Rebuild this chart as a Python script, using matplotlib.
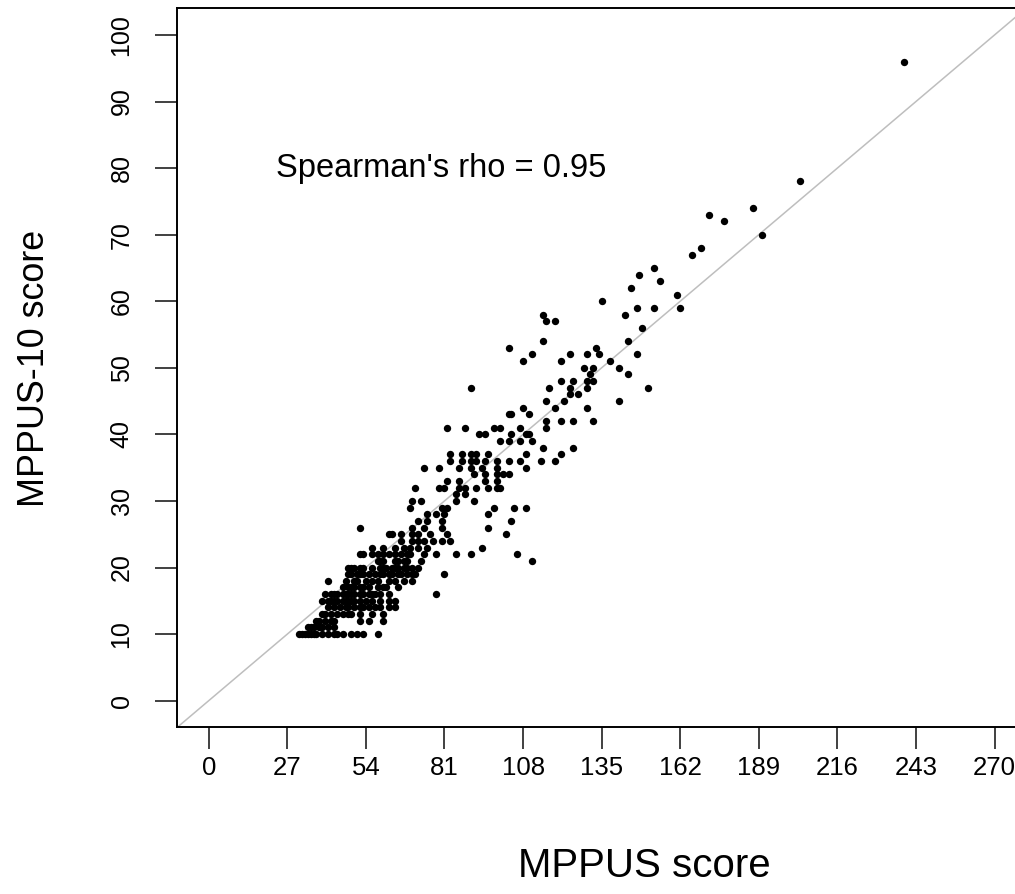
import matplotlib
matplotlib.use("Agg")
import matplotlib.pyplot as plt

plt.rcParams['font.family'] = ['Liberation Sans', 'DejaVu Sans']

# ---- data ----
x_ticks = [0, 27, 54, 81, 108, 135, 162, 189, 216, 243, 270]
y_ticks = [0, 10, 20, 30, 40, 50, 60, 70, 80, 90, 100]
annotation = "Spearman's rho = 0.95"
x_title = "MPPUS score"
y_title = "MPPUS-10 score"

mppus = [
    31, 32, 33, 34, 35, 36, 37, 39, 41, 43, 44, 46, 49, 51, 53, 58,          # 10
    34, 35, 36, 38, 39, 41, 43,                                              # 11
    37, 38, 40, 42, 43, 52, 55, 60,                                          # 12
    39, 40, 42, 44, 46, 48, 49, 52, 56, 60,                                  # 13
    41, 43, 45, 47, 48, 50, 52, 53, 55, 57, 59, 62, 64,                      # 14
    39, 41, 42, 43, 44, 46, 47, 48, 49, 50, 52, 54, 56, 59, 62, 64,          # 15
    40, 42, 43, 44, 46, 47, 48, 49, 50, 52, 53, 55, 56, 57, 59, 62, 78,      # 16
    46, 48, 49, 50, 52, 53, 55, 58, 60, 61, 65,                              # 17
    41, 47, 50, 51, 54, 56, 58, 62, 64, 67, 70,                              # 18
    48, 49, 51, 52, 53, 55, 57, 59, 60, 62, 63, 65, 66, 68, 70, 71, 81,      # 19
    48, 49, 50, 52, 53, 56, 59, 60, 61, 63, 64, 65, 67, 68, 70, 72,          # 20
    58, 59, 60, 64, 65, 67, 68, 73, 111,                                     # 21
    52, 53, 56, 58, 60, 62, 64, 66, 68, 69, 74, 78, 85, 90, 106,             # 22
    56, 60, 64, 67, 69, 72, 75, 94,                                          # 23
    66, 70, 72, 74, 77, 80, 83,                                              # 24
    62, 63, 66, 70, 72, 76, 82, 102,                                         # 25
    52, 70, 74, 80, 96,                                                      # 26
    72, 75, 80, 104,                                                         # 27
    75, 78, 81, 96,                                                          # 28
    69, 80, 82, 98, 105, 109,                                                # 29
    70, 73, 85, 91,                                                          # 30
    85, 88,                                                                  # 31
    71, 79, 81, 86, 88, 92, 96, 99, 100,                                     # 32
    82, 86, 95, 99,                                                          # 33
    91, 95, 99, 101, 103,                                                    # 34
    74, 79, 86, 90, 94, 99, 109,                                             # 35
    83, 87, 90, 92, 95, 99, 103, 107, 114, 119,                              # 36
    83, 87, 90, 92, 96, 109, 121,                                            # 37
    115, 125,                                                                # 38
    100, 103, 107, 111,                                                      # 39
    93, 95, 104, 109, 110,                                                   # 40
    82, 88, 98, 100, 107, 116,                                               # 41
    116, 121, 125, 132,                                                      # 42
    103, 104, 110,                                                           # 43
    108, 119, 130,                                                           # 44
    116, 122, 141,                                                           # 45
    124, 127,                                                                # 46
    90, 117, 124, 130, 151,                                                  # 47
    121, 125, 130, 132,                                                      # 48
    131, 144,                                                                # 49
    129, 132, 141,                                                           # 50
    108, 121, 138,                                                           # 51
    111, 124, 130, 134, 147,                                                 # 52
    103, 133,                                                                # 53
    115, 144,                                                                # 54
    149,                                                                     # 56
    116, 119,                                                                # 57
    115, 143,                                                                # 58
    147, 153, 162,                                                           # 59
    135,                                                                     # 60
    161,                                                                     # 61
    145,                                                                     # 62
    155,                                                                     # 63
    148,                                                                     # 64
    153,                                                                     # 65
    166,                                                                     # 67
    169,                                                                     # 68
    190,                                                                     # 70
    177,                                                                     # 72
    172,                                                                     # 73
    187,                                                                     # 74
    203,                                                                     # 78
    239,                                                                     # 96
]

mppus10 = [
    10, 10, 10, 10, 10, 10, 10, 10, 10, 10, 10, 10, 10, 10, 10, 10,
    11, 11, 11, 11, 11, 11, 11,
    12, 12, 12, 12, 12, 12, 12, 12,
    13, 13, 13, 13, 13, 13, 13, 13, 13, 13,
    14, 14, 14, 14, 14, 14, 14, 14, 14, 14, 14, 14, 14,
    15, 15, 15, 15, 15, 15, 15, 15, 15, 15, 15, 15, 15, 15, 15, 15,
    16, 16, 16, 16, 16, 16, 16, 16, 16, 16, 16, 16, 16, 16, 16, 16, 16,
    17, 17, 17, 17, 17, 17, 17, 17, 17, 17, 17,
    18, 18, 18, 18, 18, 18, 18, 18, 18, 18, 18,
    19, 19, 19, 19, 19, 19, 19, 19, 19, 19, 19, 19, 19, 19, 19, 19, 19,
    20, 20, 20, 20, 20, 20, 20, 20, 20, 20, 20, 20, 20, 20, 20, 20,
    21, 21, 21, 21, 21, 21, 21, 21, 21,
    22, 22, 22, 22, 22, 22, 22, 22, 22, 22, 22, 22, 22, 22, 22,
    23, 23, 23, 23, 23, 23, 23, 23,
    24, 24, 24, 24, 24, 24, 24,
    25, 25, 25, 25, 25, 25, 25, 25,
    26, 26, 26, 26, 26,
    27, 27, 27, 27,
    28, 28, 28, 28,
    29, 29, 29, 29, 29, 29,
    30, 30, 30, 30,
    31, 31,
    32, 32, 32, 32, 32, 32, 32, 32, 32,
    33, 33, 33, 33,
    34, 34, 34, 34, 34,
    35, 35, 35, 35, 35, 35, 35,
    36, 36, 36, 36, 36, 36, 36, 36, 36, 36,
    37, 37, 37, 37, 37, 37, 37,
    38, 38,
    39, 39, 39, 39,
    40, 40, 40, 40, 40,
    41, 41, 41, 41, 41, 41,
    42, 42, 42, 42,
    43, 43, 43,
    44, 44, 44,
    45, 45, 45,
    46, 46,
    47, 47, 47, 47, 47,
    48, 48, 48, 48,
    49, 49,
    50, 50, 50,
    51, 51, 51,
    52, 52, 52, 52, 52,
    53, 53,
    54, 54,
    56,
    57, 57,
    58, 58,
    59, 59, 59,
    60,
    61,
    62,
    63,
    64,
    65,
    67,
    68,
    70,
    72,
    73,
    74,
    78,
    96,
]

assert len(mppus) == len(mppus10), (len(mppus), len(mppus10))

# ---- figure ----
W, H = 1015, 894
fig = plt.figure(figsize=(W / 100, H / 100), dpi=100)
L, R, T, B = 177.3, 1026.0, 8.3, 727.3
ax = fig.add_axes([L / W, (H - B) / H, (R - L) / W, (B - T) / H])
ax.set_xlim(-10.8, 280.8)
ax.set_ylim(-4, 104)

ax.axline((0, 0), slope=100 / 270, color='#BEBEBE', lw=1.1, zorder=1)
ax.plot(mppus, mppus10, 'o', color='black', ms=5.3, mew=0, zorder=2, clip_on=False)

for s in ax.spines.values():
    s.set_linewidth(1.4)
    s.set_color('black')

ax.set_xticks(x_ticks, labels=[str(v) for v in x_ticks])
ax.set_yticks(y_ticks, labels=[str(v) for v in y_ticks], rotation=90, va='center')
ax.tick_params(length=15.5, width=1.4, color='#404040', direction='out')
ax.tick_params(axis='x', pad=5.5, labelsize=18.5)
ax.tick_params(axis='y', pad=16, labelsize=18)

ax.text(80, 80, annotation, ha='center', va='center', fontsize=23.5)
fig.text(644 / W, 1 - 866 / H, x_title, ha='center', va='center', fontsize=29)
fig.text(35 / W, 1 - 368 / H, y_title, rotation=90, ha='center', va='center', fontsize=25.8)

fig.savefig('out.png', dpi=100)
